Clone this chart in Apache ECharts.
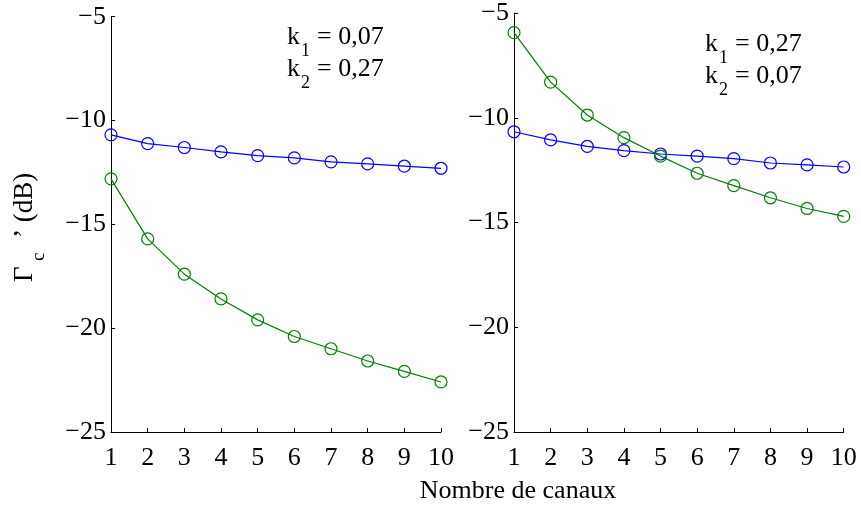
<!DOCTYPE html>
<html>
<head>
<meta charset="utf-8">
<script src="https://cdn.jsdelivr.net/npm/echarts@6/dist/echarts.min.js"></script>
<style>html,body{margin:0;padding:0;background:#fff;}#c{width:861px;height:507px;}</style>
</head>
<body>
<div id="c"></div>
<script>
const channels = [1, 2, 3, 4, 5, 6, 7, 8, 9, 10];
const leftBlue  = [-10.69, -11.11, -11.30, -11.51, -11.69, -11.80, -11.99, -12.09, -12.20, -12.30];
const leftGreen = [-12.81, -15.70, -17.40, -18.59, -19.60, -20.40, -20.99, -21.58, -22.08, -22.59];
const rightBlue  = [-10.67, -11.06, -11.37, -11.57, -11.73, -11.83, -11.95, -12.16, -12.25, -12.35];
const rightGreen = [-5.94, -8.30, -9.87, -10.95, -11.83, -12.65, -13.24, -13.82, -14.33, -14.71];
const yTicks = [-25, -20, -15, -10, -5];
const xLabel = 'Nombre de canaux';
const leftNote = ['0,07', '0,27'];
const rightNote = ['0,27', '0,07'];

const FONT = 'Liberation Serif';
const FS = 26;
const BLUE = '#0000ff';
const GREEN = '#008000';

function pairs(ys) { return channels.map((x, i) => [x, ys[i]]); }

function xAxis(gi) {
  return {
    gridIndex: gi, type: 'value', min: 1, max: 10, interval: 1,
    axisLine: {show: true, lineStyle: {color: '#000', width: 1}},
    axisTick: {show: true, inside: true, length: 4, lineStyle: {color: '#000'}},
    axisLabel: {color: '#000', fontFamily: FONT, fontSize: FS, margin: 13, showMinLabel: true, showMaxLabel: true},
    splitLine: {show: false}
  };
}
function yAxis(gi) {
  return {
    gridIndex: gi, type: 'value', min: yTicks[0], max: yTicks[yTicks.length - 1], interval: 5,
    axisLine: {show: true, lineStyle: {color: '#000', width: 1}},
    axisTick: {show: true, inside: true, length: 4, lineStyle: {color: '#000'}},
    axisLabel: {color: '#000', fontFamily: FONT, fontSize: FS, margin: 5,
      formatter: v => String(v).replace('-', '\u2212')},
    splitLine: {show: false}
  };
}
function series(data, color, gi) {
  return {
    type: 'line', xAxisIndex: gi, yAxisIndex: gi, data: pairs(data),
    symbol: 'circle', symbolSize: 12,
    lineStyle: {color: color, width: 1.2},
    itemStyle: {color: 'rgba(0,0,0,0)', borderColor: color, borderWidth: 1.2},
    animation: false, z: 3
  };
}
function txt(x, y, s, size) {
  return {type: 'text', x: x, y: y, style: {text: s, fontFamily: FONT, fontSize: size || FS, fill: '#000', align: 'left', verticalAlign: 'middle'}};
}
function note(x, y, vals) {
  return [
    txt(x, y, 'k'), txt(x + 14, y + 14, '1', 18), txt(x + 30, y, '= ' + vals[0]),
    txt(x, y + 32, 'k'), txt(x + 14, y + 46, '2', 18), txt(x + 30, y + 32, '= ' + vals[1])
  ];
}

const chart = echarts.init(document.getElementById('c'), null, {renderer: 'canvas'});
chart.setOption({
  backgroundColor: '#fff',
  animation: false,
  grid: [
    {left: 111, right: 420, top: 16.7, bottom: 75, containLabel: false},
    {left: 514, right: 17.3, top: 12, bottom: 75, containLabel: false}
  ],
  xAxis: [xAxis(0), xAxis(1)],
  yAxis: [yAxis(0), yAxis(1)],
  series: [
    series(leftBlue, BLUE, 0), series(leftGreen, GREEN, 0),
    series(rightBlue, BLUE, 1), series(rightGreen, GREEN, 1)
  ],
  graphic: [
    ...note(287, 37, leftNote),
    ...note(705, 44, rightNote),
    {type: 'text', x: 518, y: 491, style: {text: xLabel, fontFamily: FONT, fontSize: FS, fill: '#000', align: 'center', verticalAlign: 'middle'}},
    {type: 'group', x: 25, y: 282, rotation: Math.PI / 2, children: [
      {type: 'text', x: 0, y: 0, style: {text: '\u0393', fontFamily: FONT, fontSize: 27, fill: '#000', align: 'left', verticalAlign: 'middle'}},
      {type: 'text', x: 21, y: 14, style: {text: 'c', fontFamily: FONT, fontSize: 19, fill: '#000', align: 'left', verticalAlign: 'middle'}},
      {type: 'text', x: 44, y: 0, style: {text: '\u2019 (dB)', fontFamily: FONT, fontSize: 27, fill: '#000', align: 'left', verticalAlign: 'middle'}}
    ]}
  ]
});
</script>
</body>
</html>
